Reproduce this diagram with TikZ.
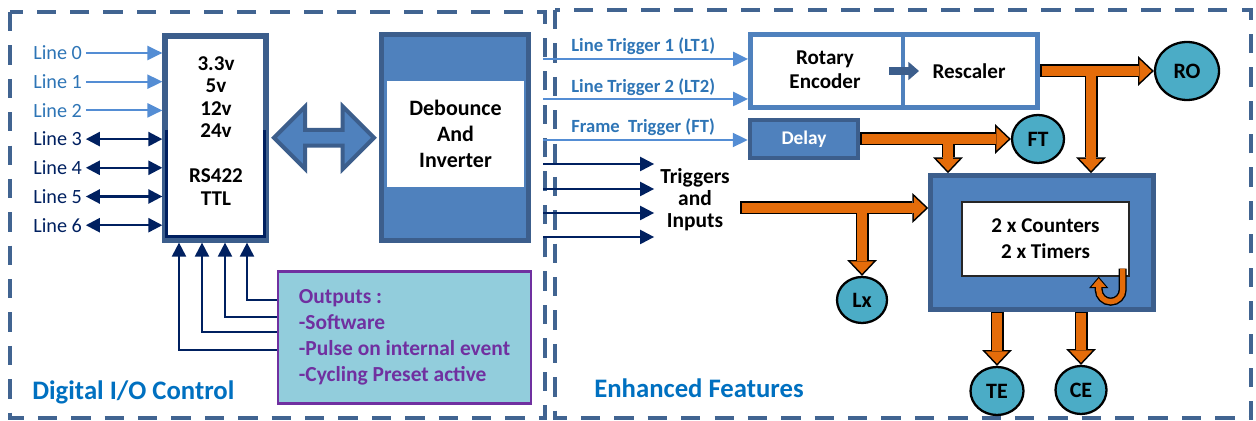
\documentclass[tikz,border=0pt]{standalone}
\usepackage{fontspec}
\setmainfont{Carlito}
\usetikzlibrary{positioning,arrows.meta,shapes.arrows,shapes.geometric,calc}

\definecolor{framecol}{RGB}{65,100,145}
\definecolor{boxline}{RGB}{60,94,140}
\definecolor{boxfill}{RGB}{79,129,189}
\definecolor{navy}{RGB}{0,32,96}
\definecolor{lightline}{RGB}{84,141,212}
\definecolor{linetext}{RGB}{46,117,182}
\definecolor{titleblue}{RGB}{0,112,192}
\definecolor{orangefill}{RGB}{228,108,10}
\definecolor{tealfill}{RGB}{75,172,198}
\definecolor{outfill}{RGB}{146,205,220}
\definecolor{outpurple}{RGB}{112,48,160}

\begin{document}
\begin{tikzpicture}[x=0.02cm,y=-0.02cm,
	font=\bfseries\fontsize{12}{14.7}\selectfont,
	dash frame/.style={draw=framecol,line width=2.3pt,dash pattern=on 11pt off 8pt},
	main box/.style={draw=boxline,fill=boxfill,line width=2.6pt,inner sep=0pt},
	white box/.style={fill=white,inner sep=0pt,align=center},
	round node/.style={ellipse,draw=black,fill=tealfill,line width=1.3pt,inner sep=0pt,
		font=\bfseries\fontsize{12.5}{14}\selectfont},
	line label/.style={anchor=west,inner sep=0pt,font=\fontsize{11.5}{13}\selectfont},
	trigger label/.style={anchor=west,inner sep=0pt,text=linetext,font=\bfseries\fontsize{10.6}{12}\selectfont},
	title/.style={anchor=west,inner sep=0pt,text=titleblue,font=\bfseries\fontsize{15.2}{17}\selectfont},
	light arrow/.style={draw=lightline,line width=1.1pt,-{Triangle[width=8pt,length=8.5pt]}},
	navy arrow/.style={draw=navy,line width=1.3pt,-{Triangle[width=8pt,length=8pt]}},
	both arrow/.style={draw=navy,line width=1.4pt,{Triangle[width=8pt,length=8pt]}-{Triangle[width=8pt,length=8pt]}},
	fat back/.style={draw=black,line width=7.4pt,-{Triangle[width=17pt,length=9pt,line width=0pt]}},
	fat front/.style={draw=orangefill,line width=5.6pt,shorten <=0.9pt,shorten >=1.3pt,
		-{Triangle[width=13pt,length=6.9pt,line width=0pt]}},
	hook back/.style={draw=black,line width=4.6pt,-{Triangle[width=11pt,length=6.5pt,line width=0pt]}},
	hook front/.style={draw=orangefill,line width=3pt,shorten >=1pt,
		-{Triangle[width=8.2pt,length=4.8pt,line width=0pt]}}]

	\useasboundingbox (0,0) rectangle (1256,421);

	% frames
	\draw[dash frame] (10,12) rectangle (545,418);
	\draw[dash frame] (555,10) rectangle (1251,418);
	\node[title] (dio) at (32,392) {Digital I/O Control};
	\node[title] (enh) at (594,388) {Enhanced Features};

	% digital I/O part
	\node[draw=boxline,fill=white,line width=3pt,minimum width=2.02cm,minimum height=4.08cm,inner sep=0pt] (volt) at (215.5,138) {};
	\draw[navy,line width=2pt] (166.5,130) -- (166.5,236.5) -- (264.5,236.5) -- (264.5,130);
	\node[align=center,font=\bfseries\fontsize{12}{12.8}\selectfont] (vtext) at (216,131) {3.3v\\5v\\12v\\24v\\[12.8pt]RS422\\TTL};

	\node[main box,minimum width=2.94cm,minimum height=4.12cm] (deb) at (455,137.5) {};
	\node[white box,minimum width=2.74cm,minimum height=2.12cm,font=\bfseries\fontsize{12.5}{14.7}\selectfont] (debin) at (455.5,134) {Debounce\\And\\Inverter};

	\node[double arrow,draw=boxline,fill=boxfill,line width=2.3pt,inner sep=0pt,
		minimum height=2.0cm,minimum width=1.25cm,double arrow head extend=0.12cm]
		(bus) at ($(volt.east)!0.5!(deb.west)$) {};

	\foreach \i in {0,1,2} {
		\node[line label,text=linetext] (l\i) at (33,{53+28.7*\i}) {Line \i};
		\draw[light arrow,shorten <=2pt] (l\i.east) -- (l\i.east -| volt.west);
	}
	\foreach \i in {3,...,6} {
		\node[line label,text=navy] (l\i) at (33,{53+28.7*\i}) {Line \i};
		\draw[both arrow,shorten <=2pt] (l\i.east) -- (l\i.east -| volt.west);
	}

	\node[draw=outpurple,fill=outfill,line width=1.4pt,minimum width=5.06cm,minimum height=2.64cm,
		align=left,text=outpurple,font=\bfseries\fontsize{12.2}{14.7}\selectfont]
		(outs) at (404.5,337.5) {Outputs :\\-Software\\-Pulse on internal event\\-Cycling Preset active};

	\foreach \i/\x/\y in {1/247/300,2/225/317,3/202/332,4/179/350} {
		\coordinate (o\i) at (outs.west |- 0,\y);
		\draw[navy arrow,line width=1.2pt] (o\i) -| (volt.south -| \x,0);
	}

	% enhanced features part
	\node[trigger label] (lt1) at (571,46) {Line Trigger 1 (LT1)};
	\node[trigger label] (lt2) at (571,87) {Line Trigger 2 (LT2)};
	\node[trigger label] (ftl) at (571,127) {Frame\ \ Trigger (FT)};

	\node[draw=boxfill,fill=white,line width=2.8pt,minimum width=5.74cm,minimum height=1.46cm,inner sep=0pt] (rot) at (894,71) {};
	\draw[boxfill,line width=2.8pt] (rot.north -| 903,0) -- (rot.south -| 903,0);
	\node[align=center,font=\bfseries\fontsize{12}{13.6}\selectfont] (rotenc) at (825,70) {Rotary\\Encoder};
	\node (resc) at (969,71) {Rescaler};
	\draw[boxline,line width=4pt,-{Triangle[width=10pt,length=6pt]}] (rot.center -| 889,0) -- (rot.center -| 919,0);

	\node[main box,minimum width=2.16cm,minimum height=0.76cm,text=white,font=\bfseries\fontsize{11}{13}\selectfont] (delay) at (804,139) {Delay};

	\coordinate (a1) at (543,59);
	\coordinate (a2) at (543,99);
	\coordinate (a3) at (543,140);
	\draw[light arrow] (a1) -- (a1 -| rot.west);
	\draw[light arrow] (a2) -- (a2 -| rot.west);
	\draw[light arrow] (a3) -- (a3 -| delay.west);

	\node[align=center,font=\bfseries\fontsize{12.2}{12.5}\selectfont] (trig) at (695,200) {Triggers\\and\\Inputs};
	\foreach \y [count=\i] in {164,189,213,237} {
		\coordinate (n\i) at (543,\y);
		\draw[navy arrow] (n\i) -- (n\i -| trig.west);
	}

	\node[main box,minimum width=4.46cm,minimum height=2.68cm] (cnt) at (1042,242.5) {};
	\node[white box,draw=black!85,line width=0.8pt,minimum width=3.34cm,minimum height=1.48cm] (cin) at (1045.5,239) {2 x Counters\\2 x Timers};

	\node[round node,minimum width=1.28cm,minimum height=1.16cm] (ro) at (1187,71) {RO};
	\node[round node,minimum width=1.04cm,minimum height=0.96cm] (ft) at (1038,139) {FT};
	\node[round node,minimum width=1.0cm,minimum height=0.92cm] (lx) at (862,300) {Lx};
	\node[round node,minimum width=1.06cm,minimum height=0.96cm] (te) at (997,391) {TE};
	\node[round node,minimum width=1.02cm,minimum height=0.96cm] (ce) at (1081,390) {CE};

	% orange arrows
	\coordinate (j1) at (rot.east -| 1091,0);
	\coordinate (j2) at (delay.east -| 948,0);
	\coordinate (t0) at (740,208);
	\coordinate (j3) at (lx.north |- t0);
	\coordinate (b1) at (cnt.north -| j1);
	\coordinate (b2) at (cnt.north -| j2);
	\coordinate (t1) at (cnt.west |- t0);
	\coordinate (te0) at (cnt.south -| te);
	\coordinate (ce0) at (cnt.south -| ce);
	\foreach \a/\b in {rot.east/ro.west,j1/b1,delay.east/ft.west,j2/b2,t0/t1,j3/lx.north,te0/te.north,ce0/ce.north}
		\draw[fat back] (\a) -- (\b);
	\foreach \a/\b in {rot.east/ro.west,j1/b1,delay.east/ft.west,j2/b2,t0/t1,j3/lx.north,te0/te.north,ce0/ce.north}
		\draw[fat front] (\a) -- (\b);

	\coordinate (h0) at ($(cin.south east)+(-7,-8)$);
	\draw[hook back] (h0) -- ++(0,21) arc[start angle=0,end angle=180,radius=12] -- ++(0,-13);
	\draw[hook front] (h0) -- ++(0,21) arc[start angle=0,end angle=180,radius=12] -- ++(0,-13);
\end{tikzpicture}
\end{document}
